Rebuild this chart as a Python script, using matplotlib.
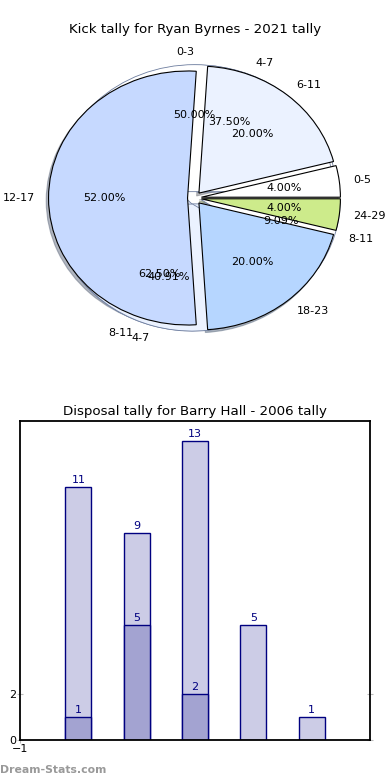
import matplotlib
matplotlib.use('Agg')
import matplotlib.pyplot as plt

# kick tally (top pie), drawn over two older tallies
kick_labels = ['0-5', '6-11', '12-17', '18-23', '24-29']
kick_counts = [1, 5, 13, 5, 1]
kick_colors = ['#ffffff', '#ebf2ff', '#c6d9ff', '#b6d6ff', '#cdeb8b']

old_labels_b = ['4-7', '8-11']
old_counts_b = [3, 5]
old_colors_b = ['#ffffff', '#ebf2ff']

old_labels_c = ['0-3', '4-7', '8-11']
old_counts_c = [11, 9, 2]
old_colors_c = ['#ffffff', '#ebf2ff', '#ffffff']

# disposal tally (bottom bars)
bar_pos = [0, 1, 2, 3, 4]
disp_total = [11, 9, 13, 5, 1]
disp_pos = [0, 1, 2]
disp_part = [1, 5, 2]

W, H = 390, 780
fig = plt.figure(figsize=(W / 100, H / 100), dpi=100)

# ---- pie (old style: not quite round) ----
cx, cy = 194.5, 198
rx, ry = 139, 127
top, bot = 40, 354
ax1 = fig.add_axes([0, 1 - bot / H, 1, (bot - top) / H])
txt = dict(fontsize=8)

ax1.pie(old_counts_b, labels=old_labels_b, colors=old_colors_b, autopct='%.2f%%',
        startangle=0, explode=[0.05] * 2, textprops=txt,
        wedgeprops=dict(edgecolor='#6f7fa0', linewidth=0.6))
ax1.pie(old_counts_c, labels=old_labels_c, colors=old_colors_c, autopct='%.2f%%',
        startangle=0, explode=[0.05] * 3, textprops=txt,
        wedgeprops=dict(edgecolor='#6f7fa0', linewidth=0.6))
ax1.pie(kick_counts, labels=kick_labels, colors=kick_colors, autopct='%.2f%%',
        startangle=0, explode=[0.05] * 5, textprops=txt,
        shadow=dict(ox=-0.012, oy=-0.016, shade=0.5),
        wedgeprops=dict(edgecolor='black', linewidth=0.8))
ax1.set_aspect('auto')
ax1.set_xlim(-cx / rx, (W - cx) / rx)
ax1.set_ylim(-(bot - cy) / ry, (cy - top) / ry)
ax1.axis('off')
fig.text(0.5, 1 - 30 / H, 'Kick tally for Ryan Byrnes - 2021 tally',
         ha='center', va='center', fontsize=9.6)

# ---- bars ----
ax2 = fig.add_axes([20 / W, 40 / H, 350 / W, 319 / H])
ax2.bar(bar_pos, disp_total, width=0.45, color='#ccccE6', edgecolor='#000080', linewidth=1)
ax2.bar(disp_pos, disp_part, width=0.45, color='#a3a3d1', edgecolor='#000080', linewidth=1)
for x, v in zip(bar_pos, disp_total):
    ax2.text(x, v + 0.1, str(v), ha='center', va='bottom', color='#000080', fontsize=8)
for x, v in zip(disp_pos, disp_part):
    ax2.text(x, v + 0.1, str(v), ha='center', va='bottom', color='#000080', fontsize=8)
ax2.set_xlim(-1, 5)
ax2.set_ylim(0, 13.87)
ax2.set_xticks([-1])
ax2.set_yticks([0, 2])
ax2.tick_params(labelsize=8, color='#bbbbbb', direction='inout', length=4,
                right=True, top=False, pad=1)
for s in ax2.spines.values():
    s.set_linewidth(1.3)
ax2.set_title('Disposal tally for Barry Hall - 2006 tally', fontsize=9.6, pad=4)

fig.text(0.0, 1 - 770 / H, 'Dream-Stats.com', ha='left', va='center',
         fontsize=7.8, color='#999999', fontweight='bold')

fig.savefig('out.png', dpi=100)
